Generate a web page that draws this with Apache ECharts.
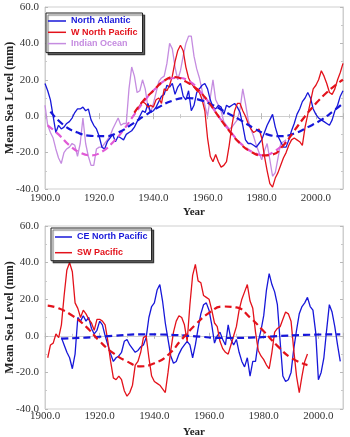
<!DOCTYPE html>
<html>
<head>
<meta charset="utf-8">
<script src="https://cdn.jsdelivr.net/npm/echarts@6/dist/echarts.min.js"></script>
<style>
html,body{margin:0;padding:0;background:#fff;}
#chart{width:350px;height:437px;}
</style>
</head>
<body>
<div id="chart"></div>
<script>
// ---- data (mm), annual series start years + values ----
var naStart = 1900;
var naVals = [
  18, 14, 9, 0, -9, -5, -7, -6, -4, -3,
  -1, 2, 4, 4, 5, 3, 4, -2, -5, -7,
  -11, -17, -18, -14, -12, -10, -14, -11, -12, -13,
  -10, -9, -8, -6, -3, 0, 3, 2, 7, 2,
  3, 5, 8, 11, 12, 17, 16, 18, 12, 16,
  18, 11, 9, 14, 3, 6, 13, 15, 17, 18,
  15, 9, 5, 4, 6, 5, 1, 6, 5, 6,
  7, 5, 2, -5, -13, -15, -15, -16, -17, -15,
  -13, -9, -5, -2, 1, -6, -11, -14, -17, -17,
  -13, -8, -4, 1, 4, 8, 10, 13, 10, 4,
  1, -1, -2, -3, -4, -5, -2, 3, 6, 11,
  14
];
var wnpStart = 1933;
var wnpVals = [
  2, 4, 6, 8, 7, 5, 6,
  5, 9, 10, 7, 15, 14, 17, 22, 30, 36,
  39, 36, 27, 21, 18, 16, 14, 13, 9, 3,
  -12, -22, -25, -21, -25, -28, -27, -25, -16, -5,
  3, 7, 7, 3, 0, -4, -7, -9, -8, -7,
  -12, -22, -30, -37, -39, -34, -31, -27, -23, -20,
  -16, -13, -12, -13, -14, -16, -6, 1, 8, 15,
  17, 20, 25, 22, 18, 13, 12, 15, 20, 24,
  29
];
var ioStart = 1900;
var ioVals = [
  6, -5, -9, -12, -18, -23, -26, -20, -18, -17,
  -15, -16, -22, -15, -1, -15, -22, -27, -27, -18,
  -17, -17, -15, -13, -11, -7, -4, -1, -5, -4,
  -4, 15, 27, 22, 13, 14, 20, 15, 5, 2,
  7, 13, 19, 21, 22, 29, 40, 37, 27, 20,
  25, 33, 40, 44, 44, 33, 26, 21, 14, 6,
  0, 10, 20, 9, 6, 3, -3, -5, -7, -6,
  -4, -2, 4, 15, 7, -2, -7, -11, -16, -20,
  -24, -19, -15, -24, -33, -31, -23, -15, -14, -13
];
var cenpStart = 1906;
var cenpVals = [
  -1, -5, -9, -12,
  -18, -10, 10, 8, 11, 8, 10, 4, 1, 3,
  8, 6, 0, -5, -10, -14, -12, -11, -9, -3,
  -2, -5, -7, -9, -8, -6, -5, -1, 10, 16,
  18, 25, 28, 19, 7, -2, -11, -15, -14, -10,
  -7, -5, -3, -5, -12, -5, 4, 12, 17, 18,
  14, 6, -4, 0, 2, -2, -5, 6, -2, -5,
  -2, -9, -14, -17, -12, -22, -14, -14, -3, 3,
  11, 25, 34, 28, 24, 17, -3, -22, -25, -24,
  -20, -7, 3, 12, 16, 18, 21, 16, 14, 2,
  -24, -20, -12, 3, 17, 13, 5, -5, -14
];
var swpStart = 1901;
var swpVals = [
  -12, -5, -4, 1, -1, 6, 22, 36, 40,
  35, 18, 15, 10, 14, 12, 9, 7, 3, 9,
  9, 8, 6, -3, -14, -23, -24, -22, -24, -30,
  -33, -31, -27, -16, -14, -9, -1, 0, -12, -22,
  -25, -26, -27, -29, -31, -20, -8, 2, 8, 11,
  10, 6, -3, 17, 33, 39, 30, 29, 22, 21,
  20, 14, 7, 5, -3, -7, -9, -10, -5, 0,
  5, 14, 20, 24, 28, 19, 15, 2, -8, -11,
  -13, -16, -18, -9, 2, 4, 5, 9, 13, 12,
  8, -8, -22, -31, -22, -14, -10
];

// ---- fitted (dashed) curves, read at sample years ----
var naFitYears = [1902, 1907, 1912, 1917, 1922, 1927, 1932, 1937, 1942, 1947, 1952, 1957, 1962, 1967, 1972, 1977, 1982, 1987, 1992, 1997, 2002, 2007, 2010];
var naFitVals  = [2.5, -5, -9, -10.8, -11, -9, -4.5, 0.5, 5, 8.5, 10, 9, 6, 2, -2, -6.5, -10, -11, -9.5, -6, -2, 3.5, 7];
var wnpFitYears = [1933, 1936, 1940, 1944, 1948, 1952, 1956, 1960, 1964, 1968, 1972, 1976, 1980, 1984, 1988, 1992, 1996, 2000, 2004, 2008, 2010];
var wnpFitVals  = [2, 8, 14, 19.5, 21.5, 19, 15, 8.5, 0, -8, -15, -19.5, -21.5, -21, -16, -8, 0, 7, 13, 18, 20];
var ioFitYears = [1901, 1905, 1909, 1913, 1917, 1921, 1925, 1929, 1933, 1937, 1941, 1945, 1949, 1953, 1957, 1961, 1965, 1969, 1973, 1977, 1981, 1985, 1989];
var ioFitVals  = [-5, -10, -16, -20, -21.5, -19.5, -14.5, -7.5, 1, 9, 15.5, 20, 21, 19.5, 14, 6.5, -2, -9.5, -16, -20, -21.5, -19, -14];
var cenpFitYears = [1906, 1915, 1925, 1935, 1945, 1955, 1965, 1975, 1985, 1995, 2008];
var cenpFitVals  = [-1.5, -1, 0, 0.8, 0.6, -0.3, -1.2, -1, -0.2, 0.5, 0.8];
var swpFitYears = [1901, 1905, 1910, 1915, 1920, 1925, 1930, 1935, 1940, 1945, 1950, 1955, 1960, 1965, 1970, 1975, 1980, 1985, 1990, 1996];
var swpFitVals  = [16.5, 15, 11, 5, -3, -9.5, -14, -16.7, -15, -10.5, -2, 6, 12.5, 16, 15.5, 10, 2.5, -5.5, -12, -16];

var yTicks = [-40, -20, 0, 20, 40, 60];
var xTicks = [1900, 1920, 1940, 1960, 1980, 2000];

var BLUE = '#1717d9', RED = '#e3121b', VIOLET = '#c58ce0', MAGENTA = '#e05ad6';
var SERIF = '"Liberation Serif","Times New Roman",serif';
var SANS = '"Liberation Sans",Arial,sans-serif';

function annual(start, vals) {
  return vals.map(function (v, i) { return [start + i, v]; });
}
function pairs(xs, ys) {
  return xs.map(function (x, i) { return [x, ys[i]]; });
}

function xAxes(g, xmax, labelMargin) {
  var base = {
    gridIndex: g, type: 'value', min: xTicks[0], max: xmax, interval: 20,
    axisLine: { show: true, lineStyle: { color: '#cfcfcf' } },
    axisTick: { show: true, inside: true, length: 3, lineStyle: { color: '#b8b8b8' } },
    minorTick: { show: true, splitNumber: 2, length: 2, lineStyle: { color: '#c8c8c8' } },
    splitLine: { show: false }
  };
  var bottom = Object.assign({}, base, {
    position: 'bottom',
    name: 'Year', nameLocation: 'middle', nameGap: 18,
    nameTextStyle: { fontFamily: SERIF, fontWeight: 'bold', fontSize: 11, color: '#222' },
    axisLabel: {
      showMaxLabel: false, margin: labelMargin, fontFamily: SERIF, fontSize: 11, color: '#333',
      formatter: function (v) { return xTicks.indexOf(v) >= 0 ? v.toFixed(1) : ''; }
    }
  });
  var top = Object.assign({}, base, { position: 'top', axisLabel: { show: false } });
  return [bottom, top];
}

function yAxes(g) {
  var base = {
    gridIndex: g, type: 'value', min: yTicks[0], max: yTicks[yTicks.length - 1], interval: 20,
    axisLine: { show: true, lineStyle: { color: '#cfcfcf' } },
    axisTick: { show: true, inside: true, length: 3, lineStyle: { color: '#b8b8b8' } },
    minorTick: { show: true, splitNumber: 2, length: 2, lineStyle: { color: '#c8c8c8' } },
    splitLine: { show: false }
  };
  var left = Object.assign({}, base, {
    position: 'left',
    name: 'Mean Sea Level (mm)', nameLocation: 'middle', nameGap: 29, nameMoveOverlap: false,
    nameTextStyle: { fontFamily: SERIF, fontWeight: 'bold', fontSize: 12, color: '#222' },
    axisLabel: {
      margin: 6, fontFamily: SERIF, fontSize: 11, color: '#333',
      formatter: function (v) { return v.toFixed(1); }
    }
  });
  var right = Object.assign({}, base, { position: 'right', axisLabel: { show: false } });
  return [left, right];
}

function solid(name, xi, yi, data, color) {
  return {
    name: name, type: 'line', xAxisIndex: xi, yAxisIndex: yi, data: data,
    symbol: 'none', lineStyle: { color: color, width: 1.3 }, itemStyle: { color: color }, z: 2
  };
}
function dashed(xi, yi, data, color) {
  return {
    type: 'line', xAxisIndex: xi, yAxisIndex: yi, data: data, smooth: true,
    symbol: 'none', lineStyle: { color: color, width: 2.2, type: [7, 4] }, z: 3
  };
}

// legend marker drawn as a thin bar, like the short line in the original key
var legendBase = {
  orient: 'vertical', selectedMode: false, icon: 'rect',
  backgroundColor: '#fff', borderColor: '#222', borderWidth: 1, borderRadius: 0,
  shadowColor: 'rgba(0,0,0,0.6)', shadowOffsetX: 2, shadowOffsetY: 2, shadowBlur: 1,
  itemHeight: 1.5,
  textStyle: { fontFamily: SANS, fontWeight: 'bold', fontSize: 9, lineHeight: 10 }
};

var myChart = echarts.init(document.getElementById('chart'));
var option = {
  animation: false,
  backgroundColor: '#fff',
  grid: [
    { left: 45, top: 7, right: 7, height: 182, show: true, borderColor: '#cfcfcf', backgroundColor: '#fff', outerBoundsMode: 'none', containLabel: false },
    { left: 45, top: 226, right: 7, height: 183, show: true, borderColor: '#cfcfcf', backgroundColor: '#fff', outerBoundsMode: 'none', containLabel: false }
  ],
  xAxis: xAxes(0, 2010, 4).concat(xAxes(1, 2009, 2)),
  yAxis: yAxes(0).concat(yAxes(1)),
  legend: [
    Object.assign({}, legendBase, {
      left: 46, top: 13, itemWidth: 18, itemGap: 1.3, padding: [3, 5, 4, 2],
      data: [
        { name: 'North Atlantic', textStyle: { color: BLUE } },
        { name: 'W North Pacific', textStyle: { color: RED } },
        { name: 'Indian Ocean', textStyle: { color: VIOLET } }
      ]
    }),
    Object.assign({}, legendBase, {
      left: 51, top: 228, itemWidth: 17, itemGap: 5.7, padding: [4, 4, 3, 4],
      data: [
        { name: 'CE North Pacific', textStyle: { color: BLUE } },
        { name: 'SW Pacific', textStyle: { color: RED } }
      ]
    })
  ],
  series: [
    solid('Indian Ocean', 0, 0, annual(ioStart, ioVals), VIOLET),
    solid('North Atlantic', 0, 0, annual(naStart, naVals), BLUE),
    solid('W North Pacific', 0, 0, annual(wnpStart, wnpVals), RED),
    dashed(0, 0, pairs(ioFitYears, ioFitVals), MAGENTA),
    dashed(0, 0, pairs(naFitYears, naFitVals), BLUE),
    dashed(0, 0, pairs(wnpFitYears, wnpFitVals), RED),
    solid('CE North Pacific', 2, 2, annual(cenpStart, cenpVals), BLUE),
    solid('SW Pacific', 2, 2, annual(swpStart, swpVals), RED),
    dashed(2, 2, pairs(cenpFitYears, cenpFitVals), BLUE),
    dashed(2, 2, pairs(swpFitYears, swpFitVals), RED)
  ]
};
myChart.setOption(option);
window.addEventListener('resize', function () {
  myChart.resize();
});
</script>
</body>
</html>
